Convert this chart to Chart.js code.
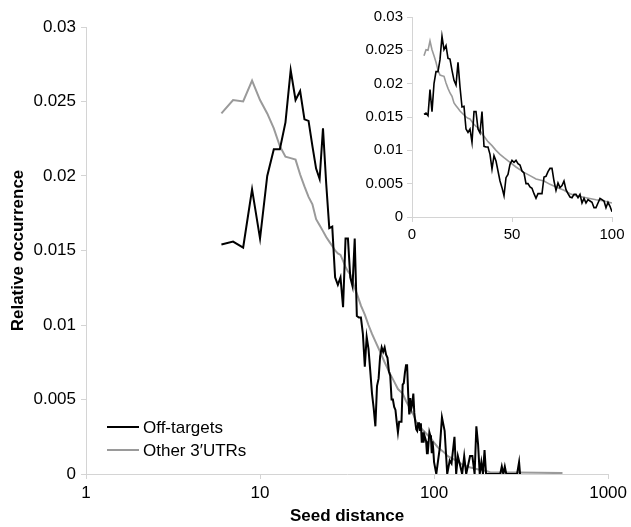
<!DOCTYPE html>
<html>
<head>
<meta charset="utf-8">
<script src="https://cdn.jsdelivr.net/npm/chart.js@4.4.1/dist/chart.umd.min.js"></script>
<style>
  body { margin: 0; background: #fff; }
  #wrap { position: relative; width: 631px; height: 527px; }
  #inset { position: absolute; left: 360px; top: 0; }
</style>
</head>
<body>
<div id="wrap">
  <canvas id="main" width="631" height="527"></canvas>
  <canvas id="inset" width="271" height="260"></canvas>
</div>
<script>
// seed distance (x) and relative occurrence (y)
const offDist = [6, 7, 8, 9, 10, 11, 12, 13, 14, 15, 16, 17, 18, 19, 20, 21, 22, 23, 24, 25,
  26, 27, 28, 29, 30, 31, 32, 33, 34, 35, 36, 37, 38, 39, 40, 41, 42, 43, 44, 45,
  46, 47, 48, 49, 50, 51, 52, 53, 54, 55, 56, 57, 58, 59, 60, 61, 62, 63, 64, 65,
  66, 67, 68, 69, 70, 71, 72, 73, 74, 75, 76, 77, 78, 79, 80, 81, 82, 83, 84, 85,
  86, 87, 88, 89, 90, 91, 92, 93, 94, 95, 96, 97, 98, 99, 100,
  103, 108, 111, 115, 119, 123, 126, 131, 134, 137, 141, 145, 149, 153, 157, 161, 166,
  171, 175, 179, 183, 187, 191, 195, 199, 240, 245, 250, 255, 260, 300, 308, 312];
const offVal = [0.0154, 0.0156, 0.0152, 0.0191, 0.0158, 0.0200, 0.0218, 0.0218, 0.0236, 0.0271,
  0.0251, 0.0257, 0.0238, 0.0237, 0.0220, 0.0205, 0.0198, 0.0232, 0.0195, 0.0165,
  0.0166, 0.0132, 0.0127, 0.0132, 0.0112, 0.0158, 0.0158, 0.0132, 0.0126, 0.0158,
  0.0106, 0.0105, 0.0105, 0.0094, 0.0072, 0.0092, 0.0084, 0.0069, 0.0054, 0.0044,
  0.0032, 0.0059, 0.0064, 0.0079, 0.0085, 0.0082, 0.0085, 0.0080, 0.0078, 0.0069,
  0.0066, 0.0050, 0.0050, 0.0045, 0.0043, 0.0035, 0.0028, 0.0035, 0.0035, 0.0035,
  0.0060, 0.0061, 0.0068, 0.0073, 0.0073, 0.0054, 0.0040, 0.0051, 0.0044, 0.0047,
  0.0054, 0.0041, 0.0035, 0.0030, 0.0029, 0.0034, 0.0034, 0.0029, 0.0034, 0.0021,
  0.0028, 0.0021, 0.0026, 0.0024, 0.0022, 0.0014, 0.0014, 0.0021, 0.0028, 0.0026,
  0.0024, 0.0014, 0.0022, 0.0016, 0.0008,
  0, 0.0018, 0.0038, 0.0029, 0, 0.0009, 0.0007, 0.0025, 0, 0.0012, 0.0006, 0, 0.0012,
  0, 0.0006, 0.0012, 0.0012, 0, 0.0032, 0.0020, 0, 0.0008, 0, 0.0016, 0, 0, 0.0005,
  0, 0.0005, 0, 0, 0.0008, 0];

const utrDist = [6, 7, 8, 9, 10, 11, 12, 13, 14, 15, 16, 17, 18, 19, 20, 21, 22, 23, 24, 25,
  26, 27, 28, 29, 30, 31, 32, 33, 34, 35, 36, 37, 38, 39, 40, 42, 44, 46, 49, 52,
  56, 59, 62, 66, 69, 72, 76, 79, 82, 87, 92, 96, 100, 105, 113, 120, 134, 147, 160,
  180, 199, 210, 300, 400, 547];
const utrVal = [0.0242, 0.0251, 0.0250, 0.0264, 0.0251, 0.0242, 0.0232, 0.0220, 0.0213, 0.0212,
  0.0211, 0.0201, 0.0193, 0.0186, 0.0181, 0.0171, 0.0167, 0.0163, 0.0159, 0.0156,
  0.0153, 0.0150, 0.0148, 0.0147, 0.0143, 0.0139, 0.0136, 0.0134, 0.0130, 0.0125,
  0.0121, 0.0117, 0.0113, 0.0110, 0.0107, 0.0100, 0.0094, 0.0089, 0.0082, 0.0075,
  0.0067, 0.0062, 0.0057, 0.0054, 0.0049, 0.0045, 0.0040, 0.0035, 0.0032, 0.0029,
  0.0026, 0.0024, 0.0021, 0.0018, 0.0015, 0.0012, 0.0009, 0.0006, 0.00045,
  0.0003, 0.0002, 0.00012, 0.0001, 0.00008, 0.00006];

const seriesNames = ['Off-targets', 'Other 3\u2032UTRs'];
const seriesColors = ['#000000', '#9a9a9a'];
const xTicks = [1, 10, 100, 1000];
const insetXTicks = [0, 50, 100];

const FONT = "'Liberation Sans', Arial, sans-serif";
const axisGrey = '#d4d4d4';

function points(dist, val, maxD) {
  return dist.map((d, i) => ({ x: d, y: val[i] })).filter(p => p.x <= maxD);
}
function fmt(v) { return String(+Number(v).toFixed(3)); }

// legend drawn inside the plot, lower left
const innerLegend = {
  id: 'innerLegend',
  afterDraw(chart) {
    const ctx = chart.ctx;
    const a = chart.chartArea;
    ctx.save();
    ctx.font = '17px ' + FONT;
    ctx.textBaseline = 'middle';
    seriesNames.forEach((name, i) => {
      const y = a.bottom - 47 + i * 23;
      ctx.strokeStyle = seriesColors[i];
      ctx.lineWidth = 2;
      ctx.beginPath();
      ctx.moveTo(a.left + 21, y);
      ctx.lineTo(a.left + 53, y);
      ctx.stroke();
      ctx.fillStyle = '#000';
      ctx.fillText(name, a.left + 57, y + 1);
    });
    ctx.restore();
  }
};

const mainData = {
  datasets: [{
    label: seriesNames[0],
    data: points(offDist, offVal, 1000),
    borderColor: seriesColors[0],
    borderWidth: 2,
    pointRadius: 0,
    tension: 0
  }, {
    label: seriesNames[1],
    data: points(utrDist, utrVal, 1000),
    borderColor: seriesColors[1],
    borderWidth: 2,
    pointRadius: 0,
    tension: 0
  }]
};

const mainChart = new Chart(document.getElementById('main'), {
  type: 'line',
  data: mainData,
  options: {
    responsive: false,
    animation: false,
    layout: { padding: { top: 27, right: 18, left: 0, bottom: 0 } },
    plugins: { legend: { display: false }, tooltip: { enabled: false } },
    scales: {
      x: {
        type: 'logarithmic',
        min: 1,
        max: 1000,
        afterBuildTicks: s => { s.ticks = xTicks.map(v => ({ value: v })); },
        afterFit: s => { s.height = 53; },
        grid: { drawOnChartArea: false, tickLength: 5, color: axisGrey },
        border: { color: axisGrey },
        ticks: { color: '#000', font: { family: FONT, size: 17 }, padding: 4, maxRotation: 0, callback: v => String(v) },
        title: { display: true, text: 'Seed distance', color: '#000', font: { family: FONT, size: 17, weight: 'bold' }, padding: { top: 0, bottom: 0 } }
      },
      y: {
        min: 0,
        max: 0.03,
        afterFit: s => { s.width = 86; },
        grid: { drawOnChartArea: false, tickLength: 5, color: axisGrey },
        border: { color: axisGrey },
        ticks: { stepSize: 0.005, color: '#000', font: { family: FONT, size: 17 }, padding: 5, callback: fmt },
        title: { display: true, text: 'Relative occurrence', color: '#000', font: { family: FONT, size: 17, weight: 'bold' }, padding: { top: 8, bottom: 0 } }
      }
    }
  },
  plugins: [innerLegend]
});

/*---------------------------------------*/
// inset: linear seed distance 0-100
const insetChart = new Chart(document.getElementById('inset'), {
  type: 'line',
  data: {
    datasets: [{
      data: points(offDist, offVal, 100),
      borderColor: seriesColors[0],
      borderWidth: 1.6,
      pointRadius: 0,
      tension: 0
    }, {
      data: points(utrDist, utrVal, 100),
      borderColor: seriesColors[1],
      borderWidth: 1.6,
      pointRadius: 0,
      tension: 0
    }]
  },
  options: {
    responsive: false,
    animation: false,
    layout: { padding: { top: 17, right: 19, left: 0, bottom: 0 } },
    plugins: { legend: { display: false }, tooltip: { enabled: false } },
    scales: {
      x: {
        type: 'linear',
        min: 0,
        max: 100,
        afterBuildTicks: s => { s.ticks = insetXTicks.map(v => ({ value: v })); },
        afterFit: s => { s.height = 43; },
        grid: { drawOnChartArea: false, tickLength: 5, color: axisGrey },
        border: { color: axisGrey },
        ticks: { color: '#000', font: { family: FONT, size: 15 }, padding: 4, maxRotation: 0 }
      },
      y: {
        min: 0,
        max: 0.03,
        afterFit: s => { s.width = 52; },
        grid: { drawOnChartArea: false, tickLength: 5, color: axisGrey },
        border: { color: axisGrey },
        ticks: { stepSize: 0.005, color: '#000', font: { family: FONT, size: 15 }, padding: 4, callback: fmt }
      }
    }
  }
});
</script>
</body>
</html>
